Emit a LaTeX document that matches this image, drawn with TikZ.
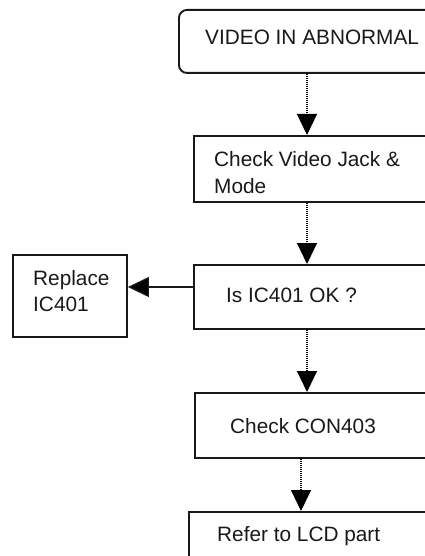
\documentclass[tikz,border=0pt]{standalone}
\usepackage{fontspec}
\setmainfont{Liberation Sans}
\usetikzlibrary{arrows.meta}
\begin{document}
\begin{tikzpicture}[x=1pt,y=-1pt,
  box/.style={draw=black!90,line width=1.9pt,anchor=north west,inner sep=0pt,minimum width=262pt},
  txt/.style={anchor=base west,inner sep=0pt,font=\fontsize{20.8}{26}\selectfont,text=black!90,align=left},
  flow/.style={line width=1.2pt,dash pattern=on 1pt off 1pt,draw=black,-{Triangle[width=20pt,length=21pt,fill=black]}},
  solidarrow/.style={line width=1.2pt,draw=black!90,-{Triangle[width=20pt,length=21pt,fill=black]}}]
\useasboundingbox (0,0) rectangle (425,556);
\clip (0,0) rectangle (425,556);
% boxes
\node[box,rounded corners=8pt,minimum height=63pt] (b1) at (178,9) {};
\node[box,minimum height=66pt] (b2) at (193,135) {};
\node[box,minimum height=64pt] (b3) at (193,264) {};
\node[box,minimum width=114pt,minimum height=82pt] (rep) at (12,254) {};
\node[box,minimum height=65pt] (b4) at (194,392) {};
\node[box,minimum width=268pt,minimum height=70pt] (b5) at (188,511) {};
% texts
\node[txt] (t1) at (205,45) {VIDEO IN ABNORMAL};
\node[txt] (t2) at (214,167) {Check Video Jack \&};
\node[txt] (t2b) at (214,193) {Mode};
\node[txt] (t3) at (226,302) {Is IC401 OK ?};
\node[txt] (tr) at (33,285) {Replace};
\node[txt] (trb) at (33,311) {IC401};
\node[txt] (t4) at (230,433) {Check CON403};
\node[txt] (t5) at (217,541) {Refer to LCD part};
% connector coordinates
\coordinate (ax) at (307,0);
\coordinate (ax2) at (301,0);
\coordinate (ly) at (0,287);
% connectors
\draw[flow] (b1.south -| ax) -- (b2.north -| ax);
\draw[flow] (b2.south -| ax) -- (b3.north -| ax);
\draw[flow] (b3.south -| ax) -- (b4.north -| ax);
\draw[flow] (b4.south -| ax2) -- (b5.north -| ax2);
\draw[solidarrow] (b3.west |- ly) -- (rep.east |- ly);
\end{tikzpicture}
\end{document}
